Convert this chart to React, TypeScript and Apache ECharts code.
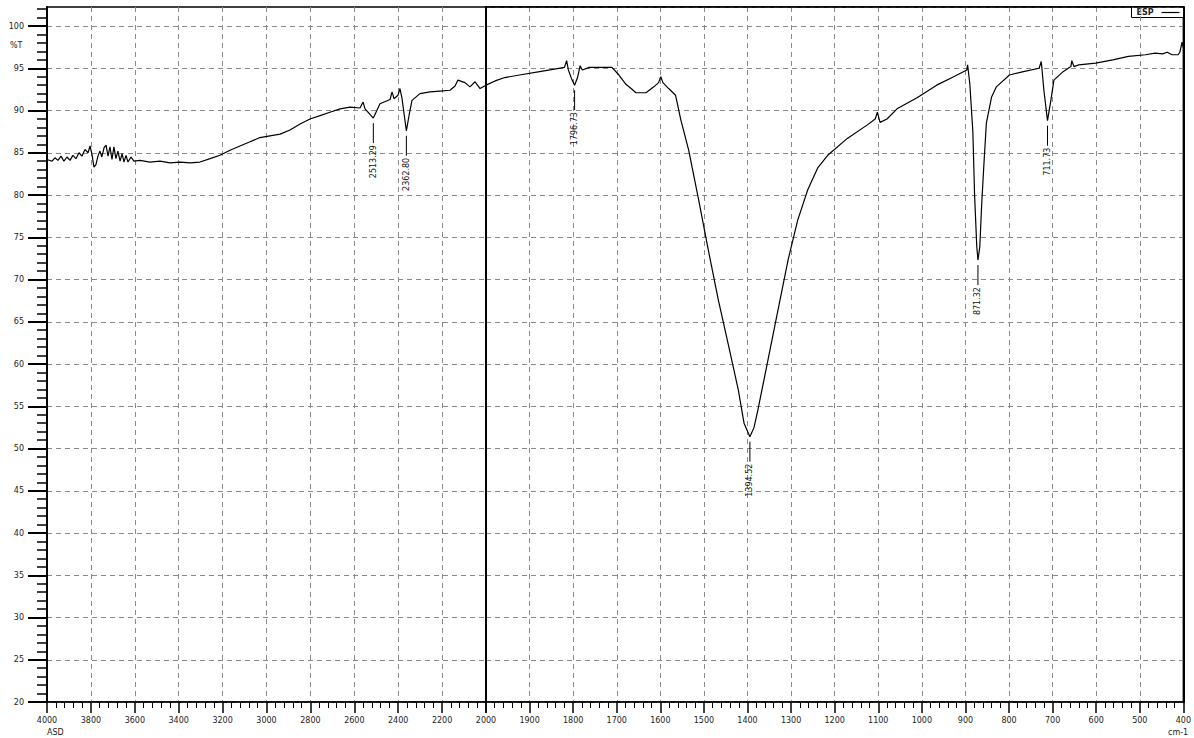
import React, { useEffect, useRef } from "react";
import * as echarts from "echarts";

// Spectrum, high-wavenumber segment (4000 -> 2000 cm-1)
const leftWavenumbers = [
  4000, 3977, 3964, 3950, 3936, 3923, 3909, 3895, 3882, 3868, 3854, 3841, 3827, 3813, 3804,
  3795, 3786, 3777, 3768, 3759, 3750, 3740, 3731, 3722, 3713, 3704, 3695, 3686, 3677, 3667,
  3658, 3649, 3640, 3631, 3617, 3604, 3576, 3531, 3485, 3440, 3394, 3348, 3303, 3257, 3212,
  3166, 3121, 3075, 3030, 2984, 2938, 2893, 2847, 2802, 2756, 2711, 2665, 2620, 2574, 2560,
  2551, 2513.29, 2483, 2437, 2428, 2419, 2401, 2392, 2383, 2362.8, 2350, 2337, 2301, 2255,
  2210, 2164, 2141, 2128, 2096, 2073, 2050, 2027, 2000,
];
const leftTransmittance = [
  84.2, 84.0, 84.4, 84.1, 84.6, 84.0, 84.5, 84.1, 84.7, 84.3, 85.0, 84.6, 85.4, 85.0, 85.8,
  84.8, 83.3, 83.6, 84.6, 85.2, 84.5, 85.6, 85.9, 84.6, 85.7, 84.2, 85.7, 84.3, 85.2, 84.0,
  84.9, 83.9, 84.7, 83.9, 84.5, 84.0, 84.1, 83.9, 84.0, 83.8, 83.9, 83.8, 83.9, 84.3, 84.7,
  85.3, 85.8, 86.3, 86.8, 87.0, 87.2, 87.7, 88.4, 89.0, 89.4, 89.8, 90.2, 90.4, 90.3, 91.0,
  90.2, 89.1, 90.8, 91.3, 92.2, 91.4, 91.8, 92.6, 91.5, 87.6, 89.5, 91.2, 92.0, 92.2,
  92.3, 92.4, 92.9, 93.6, 93.3, 92.8, 93.4, 92.6, 93.0,
];

// Spectrum, low-wavenumber segment (2000 -> 400 cm-1)
const rightWavenumbers = [
  2000, 1979, 1957, 1923, 1877, 1843, 1820, 1815, 1811, 1804, 1796.73, 1790, 1784, 1779, 1763,
  1740, 1711, 1695, 1679, 1667, 1656, 1633, 1615, 1604, 1599, 1594, 1581, 1565, 1553, 1535,
  1512, 1490, 1467, 1444, 1421, 1408, 1394.52, 1385, 1376, 1353, 1330, 1307, 1285, 1262, 1239,
  1216, 1171, 1125, 1107, 1102, 1096, 1080, 1057, 1011, 966, 927, 897, 895, 890, 883,
  879, 874, 871.32, 867, 863, 858, 852, 840, 829, 799, 767, 731, 726, 720, 711.73,
  704, 697, 676, 658, 656, 651, 640, 601, 562, 526, 487, 465, 448, 437, 426,
  412, 408, 403, 400,
];
const rightTransmittance = [
  93.0, 93.5, 93.9, 94.2, 94.6, 94.9, 95.1, 95.9, 94.8, 93.8, 93.0, 93.9, 95.3, 94.8, 95.1,
  95.1, 95.1, 94.2, 93.1, 92.6, 92.1, 92.1, 92.8, 93.3, 94.0, 93.3, 92.6, 91.8, 88.9, 85.3,
  79.4, 73.5, 67.6, 62.3, 56.9, 53.0, 51.4, 52.5, 54.6, 60.5, 66.4, 72.3, 77.0, 80.6, 83.2,
  84.7, 86.7, 88.3, 89.0, 89.8, 88.6, 89.0, 90.2, 91.5, 93.0, 94.0, 94.8, 95.4, 93.2, 87.5,
  80.0, 73.9, 72.3, 73.9, 78.6, 83.3, 88.5, 91.6, 92.8, 94.2, 94.6, 95.0, 95.8, 92.4, 88.8,
  91.2, 93.6, 94.6, 95.2, 95.9, 95.2, 95.4, 95.6, 96.0, 96.4, 96.6, 96.8, 96.7, 96.9, 96.6,
  96.6, 96.9, 98.1, 97.4,
];

// Peak picks
const peakWavenumbers = [2513.29, 2362.8, 1796.73, 1394.52, 871.32, 711.73];
const peakTransmittance = [89.1, 87.6, 93.0, 51.4, 72.3, 88.8];
const peakLabels = ["2513.29", "2362.80", "1796.73", "1394.52", "871.32", "711.73"];

// Axes
const yTickValues = [20, 25, 30, 35, 40, 45, 50, 55, 60, 65, 70, 75, 80, 85, 90, 95, 100];
const yMin = 20;
const yMax = 102.25;
const seriesName = "ESP";

const FONT = "DejaVu Sans";

export default function App() {
  const ref = useRef<HTMLDivElement>(null);

  useEffect(() => {
    if (!ref.current) return;
    const chart = echarts.init(ref.current, undefined, { renderer: "svg" });

    const leftData = leftWavenumbers.map((w, i) => [w, leftTransmittance[i]]);
    const rightData = rightWavenumbers.map((w, i) => [w, rightTransmittance[i]]);
    const peaks = peakWavenumbers.map((w, i) => [w, peakTransmittance[i], i]);
    const leftPeaks = peaks.filter((p) => p[0] >= 2000);
    const rightPeaks = peaks.filter((p) => p[0] < 2000);

    const splitLine = {
      show: true,
      lineStyle: { color: "#8a8a8a", type: [5, 4] as any, width: 1 },
    };

    const peakRender = (params: any, api: any) => {
      const p = api.coord([api.value(0), api.value(1)]);
      const idx = api.value(2);
      return {
        type: "group",
        children: [
          {
            type: "line",
            shape: { x1: p[0], y1: p[1] + 5, x2: p[0], y2: p[1] + 25 },
            style: { stroke: "#000", lineWidth: 1 },
          },
          {
            type: "text",
            x: p[0],
            y: p[1] + 27,
            rotation: Math.PI / 2,
            style: {
              text: peakLabels[idx],
              align: "right",
              verticalAlign: "middle",
              font: `8px "${FONT}"`,
              fill: "#111",
            },
          },
        ],
      };
    };

    const xCommon = {
      type: "value",
      inverse: true,
      position: "bottom",
      axisLine: { show: true, onZero: false, lineStyle: { color: "#000", width: 1.5 } },
      axisTick: { show: true, length: 11, lineStyle: { color: "#000", width: 1.5 } },
      minorTick: { show: true, splitNumber: 5, length: 6, lineStyle: { color: "#000", width: 1 } },
      splitLine,
      axisLabel: { fontFamily: FONT, fontSize: 8, color: "#222", margin: 14 },
    };

    chart.setOption({
      animation: false,
      grid: [
        { left: 47, top: 7, width: 439, height: 695, show: true, borderColor: "#000", borderWidth: 1.5, backgroundColor: "transparent" },
        { left: 486, top: 7, width: 702, height: 695, show: true, borderColor: "#000", borderWidth: 1.5, backgroundColor: "transparent" },
      ],
      xAxis: [
        {
          ...xCommon,
          gridIndex: 0,
          min: 2000,
          max: 4000,
          interval: 200,
          axisLabel: { ...xCommon.axisLabel, formatter: (v: number) => String(v) },
        },
        {
          ...xCommon,
          gridIndex: 1,
          min: 400,
          max: 2000,
          interval: 100,
          axisLabel: { ...xCommon.axisLabel, formatter: (v: number) => (v === 2000 ? "" : String(v)) },
        },
        {
          type: "value",
          gridIndex: 1,
          min: 400,
          max: 2000,
          inverse: true,
          position: "top",
          axisLine: { show: true, onZero: false, lineStyle: { color: "#000", width: 1.5 } },
          axisTick: { show: false },
          axisLabel: { show: false },
          splitLine: { show: false },
        },
      ],
      yAxis: [
        {
          type: "value",
          gridIndex: 0,
          min: yMin,
          max: yMax,
          interval: 5,
          axisLine: { show: true, lineStyle: { color: "#000", width: 2 } },
          axisTick: { show: true, length: 19, customValues: yTickValues, lineStyle: { color: "#000", width: 2 } },
          minorTick: { show: true, splitNumber: 5, length: 10, lineStyle: { color: "#000", width: 1.5 } },
          splitLine,
          axisLabel: {
            customValues: yTickValues,
            fontFamily: FONT,
            fontSize: 8,
            color: "#222",
            margin: 23,
            formatter: (v: number) => (v % 5 === 0 ? String(v) : ""),
          },
        },
        {
          type: "value",
          gridIndex: 1,
          min: yMin,
          max: yMax,
          interval: 5,
          position: "left",
          axisLine: { show: true, onZero: false, lineStyle: { color: "#000", width: 2 } },
          axisTick: { show: false },
          axisLabel: { show: false },
          splitLine,
        },
        {
          type: "value",
          gridIndex: 1,
          min: yMin,
          max: yMax,
          position: "right",
          axisLine: { show: true, onZero: false, lineStyle: { color: "#000", width: 2 } },
          axisTick: { show: false },
          axisLabel: { show: false },
          splitLine: { show: false },
        },
      ],
      series: [
        {
          name: seriesName,
          type: "line",
          xAxisIndex: 0,
          yAxisIndex: 0,
          data: leftData,
          showSymbol: false,
          symbol: "none",
          lineStyle: { color: "#000", width: 1.2 },
          z: 5,
        },
        {
          name: seriesName,
          type: "line",
          xAxisIndex: 1,
          yAxisIndex: 1,
          data: rightData,
          showSymbol: false,
          symbol: "none",
          lineStyle: { color: "#000", width: 1.2 },
          z: 5,
        },
        {
          type: "custom",
          xAxisIndex: 0,
          yAxisIndex: 0,
          data: leftPeaks,
          renderItem: peakRender,
          z: 6,
        },
        {
          type: "custom",
          xAxisIndex: 1,
          yAxisIndex: 1,
          data: rightPeaks,
          renderItem: peakRender,
          z: 6,
        },
      ],
      graphic: [
        {
          type: "text",
          left: 10,
          top: 41,
          style: { text: "%T", font: `8px "${FONT}"`, fill: "#222" },
        },
        {
          type: "text",
          left: 47,
          top: 728,
          style: { text: "ASD", font: `8px "${FONT}"`, fill: "#222" },
        },
        {
          type: "text",
          left: 1168,
          top: 728,
          style: { text: "cm-1", font: `8px "${FONT}"`, fill: "#222" },
        },
        {
          type: "group",
          left: 1131,
          top: 6,
          z: 20,
          children: [
            { type: "rect", shape: { x: 0, y: 0, width: 52, height: 11 }, style: { fill: "#fff", stroke: "#000", lineWidth: 1 } },
            { type: "text", x: 5, y: 6, style: { text: seriesName, font: `bold 8px "${FONT}"`, fill: "#222", verticalAlign: "middle" } },
            { type: "line", shape: { x1: 30, y1: 6, x2: 48, y2: 6 }, style: { stroke: "#000", lineWidth: 1.2 } },
          ],
        },
      ],
    });

    return () => chart.dispose();
  }, []);

  return (
    <div
      ref={ref}
      style={{ position: "fixed", left: 0, top: 0, width: 1194, height: 738, background: "#fff" }}
    />
  );
}
